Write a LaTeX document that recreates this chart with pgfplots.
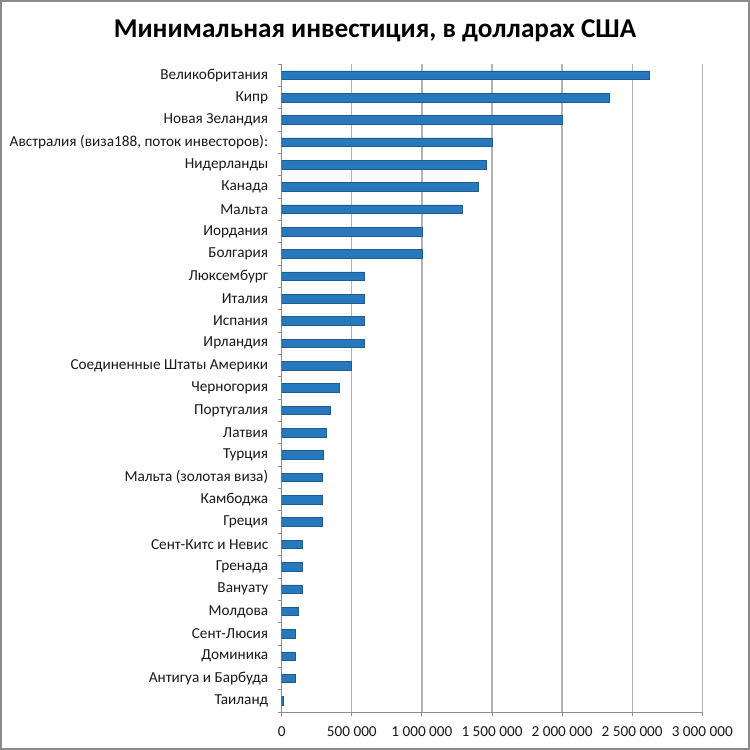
\documentclass[border=0pt]{standalone}
\usepackage{fontspec}
\setmainfont{Carlito}
\usepackage{pgfplots}
\pgfplotsset{compat=1.18}
\usetikzlibrary{calc}
\definecolor{barblue}{HTML}{2878BE}
\definecolor{baredge}{HTML}{1D5C8F}
\definecolor{gridgray}{HTML}{B4B4B4}
\definecolor{axisgray}{HTML}{8C8C8C}
\definecolor{framegray}{HTML}{8A8A8A}
\begin{document}
\begin{tikzpicture}
\begin{axis}[
    name=ax,
    scale only axis,
    width=420.6bp, height=648bp,
    xbar, bar width=8.6bp,
    xmin=0, xmax=3000000,
    ymin=-0.5, ymax=28.5,
    axis x line*=bottom, axis y line*=left,
    axis line style={axisgray, line width=0.8bp},
    tick align=outside,
    xtick={0,500000,1000000,1500000,2000000,2500000,3000000},
    xticklabels={0,500 000,1 000 000,1 500 000,2 000 000,2 500 000,3 000 000},
    scaled x ticks=false,
    major tick length=4bp,
    x tick style={axisgray, line width=0.8bp},
    xmajorgrids, grid style={gridgray, line width=1.4bp},
    ytick={0,...,28},
    yticklabels={Таиланд,Антигуа и Барбуда,Доминика,Сент-Люсия,Молдова,Вануату,Гренада,Сент-Китс и Невис,Греция,Камбоджа,{Мальта (золотая виза)},Турция,Латвия,Португалия,Черногория,Соединенные Штаты Америки,Ирландия,Испания,Италия,Люксембург,Болгария,Иордания,Мальта,Канада,Нидерланды,{Австралия (виза188, поток инвесторов):},Новая Зеландия,Кипр,Великобритания},
    major y tick style={draw=none},
    minor ytick={-0.5,0.5,...,28.5},
    minor y tick style={axisgray, line width=0.8bp},
    minor tick length=4bp,
    tick label style={font=\fontsize{15.3}{17}\selectfont, text=black!90},
    yticklabel style={xshift=-6bp},
    xticklabel style={yshift=-7bp},
]
\addplot[fill=barblue, draw=baredge, line width=0.6bp] coordinates {
    (15000,0) (100000,1) (100000,2) (100000,3) (115000,4)
    (150000,5) (150000,6) (150000,7)
    (290000,8) (290000,9) (290000,10) (300000,11) (320000,12)
    (350000,13) (410000,14) (500000,15)
    (590000,16) (590000,17) (590000,18) (590000,19)
    (1000000,20) (1000000,21) (1290000,22) (1400000,23) (1460000,24)
    (1500000,25) (2000000,26) (2340000,27) (2620000,28)
};
\end{axis}
% image frame: 750 x 750 px, axis spans x 281.7..702.3, y 64..712
\coordinate (fsw) at ([xshift=-281.7bp, yshift=-38bp]ax.south west);
\coordinate (fne) at ([xshift=47.7bp, yshift=64bp]ax.north east);
\useasboundingbox (fsw) rectangle (fne);
\draw[framegray, line width=2bp] ([xshift=1bp,yshift=1bp]fsw) rectangle ([xshift=-1bp,yshift=-1bp]fne);
\node[font=\fontsize{27.3}{31}\selectfont\bfseries, anchor=center]
    at ([yshift=-31bp]$(fsw|-fne)!0.5!(fne)$) {Минимальная инвестиция, в долларах США};
\end{tikzpicture}
\end{document}
